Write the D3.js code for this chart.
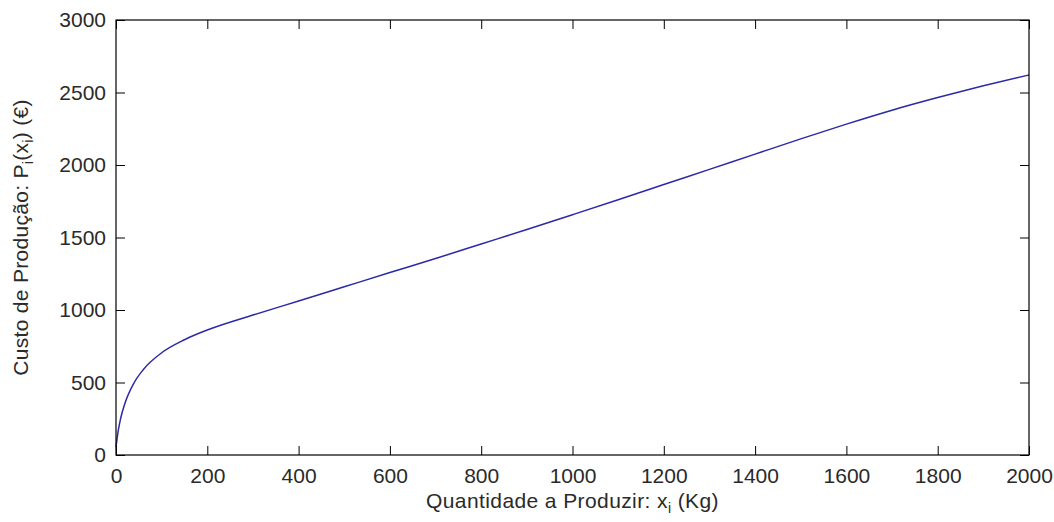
<!DOCTYPE html>
<html>
<head>
<meta charset="utf-8">
<script src="https://cdn.jsdelivr.net/npm/d3@7"></script>
<style>
  body { margin: 0; background: #fff; }
  text { font-family: "Liberation Sans", Arial, sans-serif; fill: #2a2a2a; }
</style>
</head>
<body>
<script>
// data
var quantidade = [0, 5, 10, 20, 40, 60, 100, 150, 200, 300, 400, 500, 600, 700, 800, 900, 1000, 1100, 1200, 1300, 1400, 1500, 1600, 1700, 1800, 1900, 2000];
var custo = [55, 170, 250, 360, 500, 590, 705, 795, 862, 965, 1062, 1160, 1258, 1355, 1455, 1555, 1657, 1760, 1865, 1970, 2075, 2180, 2282, 2378, 2465, 2546, 2621];
var xTicks = [0, 200, 400, 600, 800, 1000, 1200, 1400, 1600, 1800, 2000];
var yTicks = [0, 500, 1000, 1500, 2000, 2500, 3000];

var W = 1054, H = 522;
var margin = {top: 20, right: 25, bottom: 67, left: 116};
var width = W - margin.left - margin.right,
    height = H - margin.top - margin.bottom;

var svg = d3.select("body").append("svg")
    .attr("width", W)
    .attr("height", H);

var g = svg.append("g")
    .attr("transform", "translate(" + margin.left + "," + margin.top + ")");

var x = d3.scaleLinear().domain([0, 2000]).range([0, width]);
var y = d3.scaleLinear().domain([0, 3000]).range([height, 0]);

var data = quantidade.map(function(q, i) { return {q: q, c: custo[i]}; });

// curve
var line = d3.line()
    .x(function(d) { return x(d.q); })
    .y(function(d) { return y(d.c); })
    .curve(d3.curveMonotoneX);

g.append("path")
    .datum(data)
    .attr("fill", "none")
    .attr("stroke", "#2a2aa6")
    .attr("stroke-width", 1.5)
    .attr("d", line);

// axes, matlab style: inward ticks on every side
var tickLen = 9;
var fmt = d3.format("d");
function styleAxis(sel) {
  sel.select(".domain").remove();
  sel.selectAll(".tick line").attr("stroke", "#000");
  sel.selectAll("text").style("font-size", "21px").attr("fill", "#2a2a2a");
}

g.append("g")
    .attr("transform", "translate(0," + height + ")")
    .call(d3.axisBottom(x).tickValues(xTicks).tickFormat(fmt).tickSizeInner(-tickLen).tickSizeOuter(0).tickPadding(13))
    .call(styleAxis);

g.append("g")
    .call(d3.axisLeft(y).tickValues(yTicks).tickFormat(fmt).tickSizeInner(-tickLen).tickSizeOuter(0).tickPadding(10))
    .call(styleAxis);

g.append("g")
    .call(d3.axisTop(x).tickValues(xTicks).tickSizeInner(-tickLen).tickSizeOuter(0).tickFormat(""))
    .call(styleAxis);

g.append("g")
    .attr("transform", "translate(" + width + ",0)")
    .call(d3.axisRight(y).tickValues(yTicks).tickSizeInner(-tickLen).tickSizeOuter(0).tickFormat(""))
    .call(styleAxis);

// box
g.append("rect")
    .attr("width", width)
    .attr("height", height)
    .attr("fill", "none")
    .attr("stroke", "#000")
    .attr("stroke-width", 1.2);

// x label
var xl = svg.append("text")
    .attr("x", margin.left + width / 2)
    .attr("y", 508)
    .attr("text-anchor", "middle")
    .style("font-size", "21px")
    .style("letter-spacing", "0.4px");
xl.append("tspan").text("Quantidade a Produzir: x");
xl.append("tspan").attr("dy", 5).style("font-size", "14px").text("i");
xl.append("tspan").attr("dy", -5).text(" (Kg)");

// y label
var yl = svg.append("text")
    .attr("transform", "translate(28," + (margin.top + height / 2) + ") rotate(-90)")
    .attr("text-anchor", "middle")
    .style("font-size", "21px")
    .style("letter-spacing", "0.3px");
yl.append("tspan").text("Custo de Produção: P");
yl.append("tspan").attr("dy", 5).style("font-size", "14px").text("i");
yl.append("tspan").attr("dy", -5).text("(x");
yl.append("tspan").attr("dy", 5).style("font-size", "14px").text("i");
yl.append("tspan").attr("dy", -5).text(") (€)");
</script>
</body>
</html>
